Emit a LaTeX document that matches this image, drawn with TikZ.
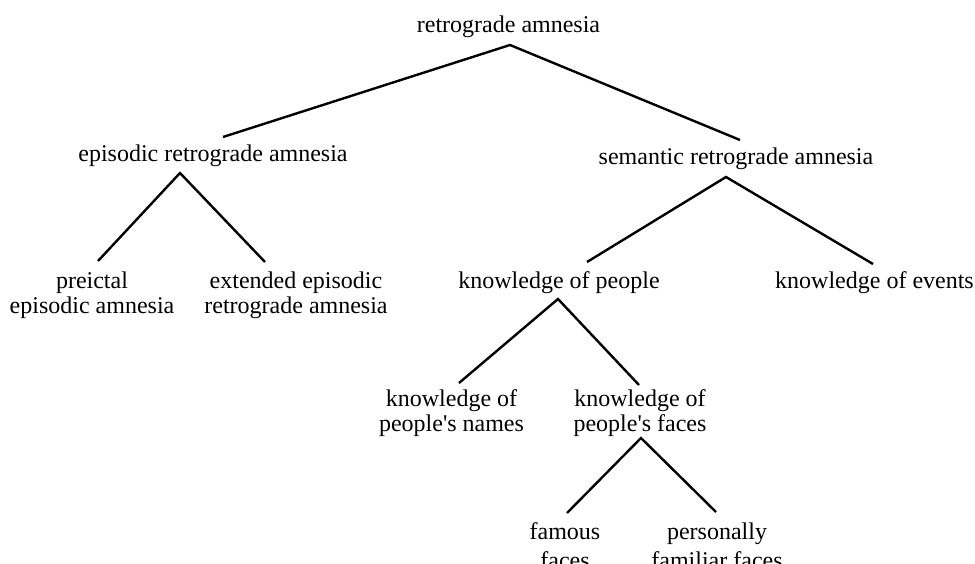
\documentclass[tikz,border=0pt]{standalone}
\usepackage{fontspec}
\setmainfont{Liberation Serif}
\usetikzlibrary{calc}
\newcommand{\twolines}[1]{\begin{tabular}[t]{@{}c@{}}#1\end{tabular}}
\begin{document}
\begin{tikzpicture}[x=1pt,y=-1pt,
  lbl/.style={inner sep=0pt, anchor=base, font=\fontsize{24}{25}\selectfont},
  edge/.style={line width=2.4pt}]
\useasboundingbox (0,0) rectangle (975,564);
% nodes (x = centre, y = first baseline)
\node[lbl] (root) at (508.5,33) {retrograde amnesia};
\node[lbl] (epi) at (213,162) {episodic retrograde amnesia};
\node[lbl] (sem) at (736,165) {semantic retrograde amnesia};
\node[lbl] (pre) at (92,288) {\twolines{preictal\\episodic amnesia}};
\node[lbl] (ext) at (296,288) {\twolines{extended episodic\\retrograde amnesia}};
\node[lbl] (kp) at (559,288) {knowledge of people};
\node[lbl] (ke) at (874.5,288) {knowledge of events};
\node[lbl] (kn) at (451.5,406) {\twolines{knowledge of\\people\textquotesingle s names}};
\node[lbl] (kf) at (640,406) {\twolines{knowledge of\\people\textquotesingle s faces}};
\node[lbl] (ff) at (565,539) {\twolines{famous\\[4pt]faces}};
\node[lbl] (pf) at (717,539) {\twolines{personally\\[4pt]familiar faces}};
% connectors
\draw[edge] ($(epi.base)+(10,-25)$) -- ($(root.base)+(1.5,12)$) -- ($(sem.base)+(4,-25)$);
\draw[edge] ($(pre.base)+(6,-27)$) -- ($(epi.base)+(-33,11)$) -- ($(ext.base)+(-31,-26)$);
\draw[edge] ($(kp.base)+(28,-26)$) -- ($(sem.base)+(-10,12)$) -- ($(ke.base)+(-1.5,-24)$);
\draw[edge] ($(kn.base)+(7.5,-23)$) -- ($(kp.base)+(-1,11)$) -- ($(kf.base)+(-1,-21)$);
\draw[edge] ($(ff.base)+(2,-26)$) -- ($(kf.base)+(1,32)$) -- ($(pf.base)+(-1,-27)$);
\end{tikzpicture}
\end{document}
